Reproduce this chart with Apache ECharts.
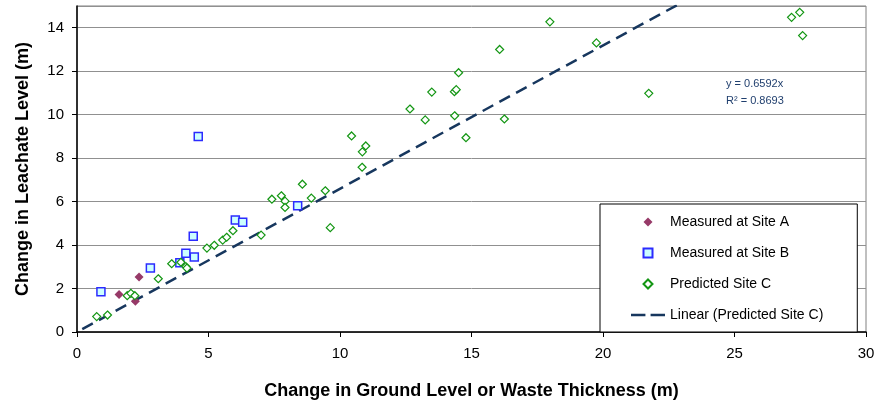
<!DOCTYPE html>
<html><head><meta charset="utf-8">
<script src="https://cdn.jsdelivr.net/npm/echarts@6/dist/echarts.min.js"></script>
<style>html,body{margin:0;padding:0;background:#fff}#c{width:880px;height:405px}</style>
</head><body><div id="c"></div>
<script>
// ---- data ----
const seriesNames = ['Measured at Site A', 'Measured at Site B', 'Predicted Site C', 'Linear (Predicted Site C)'];
const siteA = [[1.60, 1.72], [2.36, 2.53], [2.22, 1.42]];
const siteB = [[0.91, 1.85], [2.79, 2.95], [3.91, 3.19], [4.14, 3.62], [4.46, 3.45],
               [4.42, 4.41], [6.02, 5.15], [6.30, 5.05], [8.39, 5.81], [4.61, 9.00]];
const siteC = [[0.75, 0.71], [1.16, 0.78], [1.91, 1.67], [2.05, 1.78], [2.20, 1.67],
               [3.09, 2.45], [3.60, 3.14], [3.95, 3.21], [4.14, 3.01], [4.18, 2.94],
               [4.94, 3.86], [5.22, 3.99], [5.54, 4.23], [5.69, 4.36], [5.93, 4.66],
               [7.00, 4.46], [7.41, 6.11], [7.77, 6.27], [7.91, 6.02], [7.91, 5.73],
               [8.57, 6.80], [8.91, 6.16], [9.44, 6.50], [9.63, 4.80], [10.44, 9.02],
               [10.85, 8.29], [10.98, 8.56], [10.84, 7.58], [12.66, 10.26], [13.24, 9.76],
               [13.49, 11.04], [14.36, 9.95], [14.35, 11.06], [14.42, 11.15], [14.51, 11.93],
               [14.79, 8.94], [16.07, 13.00], [16.25, 9.80], [17.98, 14.27], [19.75, 13.30],
               [21.74, 10.98], [27.17, 14.48], [27.48, 14.71], [27.59, 13.64]];
const trendSlope = 0.6592;     // y = 0.6592x (from chart label)
const trendR2 = 0.8693;
const trendXRange = [0.2, 27.6];
const xAxisRange = [0, 30, 5];   // min, max, interval
const yAxisRange = [0, 15, 2];
const xTitle = 'Change in Ground Level or Waste Thickness (m)';
const yTitle = 'Change in Leachate Level (m)';

const trendData = trendXRange.map(x => [x, trendSlope * x]);
const FONT = '"Liberation Sans", Arial, sans-serif';
const TREND_COLOR = '#17375e';
const ICON_DIAMOND = 'path://M5,0L10,5L5,10L0,5Z';
const ICON_SQUARE = 'path://M0,0H10V10H0Z';
const ICON_DASH = 'path://M0,0H14V2.4H0Z M19,0H33V2.4H19Z';

const chart = echarts.init(document.getElementById('c'), null, {renderer: 'canvas'});
chart.setOption({
  animation: false,
  backgroundColor: '#fff',
  grid: {left: 77, right: 14, top: 6, bottom: 72, show: true, borderColor: '#808080', borderWidth: 1, backgroundColor: 'transparent'},
  xAxis: {
    type: 'value', min: xAxisRange[0], max: xAxisRange[1], interval: xAxisRange[2],
    name: xTitle, nameLocation: 'middle', nameGap: 50,
    nameTextStyle: {fontFamily: FONT, fontSize: 18, fontWeight: 'bold', color: '#000'},
    axisLine: {show: true, onZero: false, lineStyle: {color: '#000', width: 1.5}},
    axisTick: {show: true, inside: false, length: 5, lineStyle: {color: '#000'}},
    axisLabel: {fontFamily: FONT, fontSize: 15, color: '#000', margin: 14},
    splitLine: {show: false}
  },
  yAxis: {
    type: 'value', min: yAxisRange[0], max: yAxisRange[1], interval: yAxisRange[2],
    name: yTitle, nameLocation: 'middle', nameGap: 45, nameRotate: 90,
    nameTextStyle: {fontFamily: FONT, fontSize: 18, fontWeight: 'bold', color: '#000'},
    axisLine: {show: true, onZero: false, lineStyle: {color: '#000', width: 1.5}},
    axisTick: {show: true, inside: false, length: 5, lineStyle: {color: '#000'}},
    axisLabel: {fontFamily: FONT, fontSize: 15, color: '#000', margin: 13, showMaxLabel: false},
    splitLine: {show: true, lineStyle: {color: '#909090', width: 1}}
  },
  legend: {
    orient: 'vertical', left: 600, top: 204,
    padding: [11, 34, 10, 31],
    itemWidth: 34, itemHeight: 9, itemGap: 17,
    symbolKeepAspect: true,
    backgroundColor: '#fff', borderColor: '#000', borderWidth: 1,
    textStyle: {fontFamily: FONT, fontSize: 14, color: '#000'},
    data: [
      {name: seriesNames[0], icon: ICON_DIAMOND},
      {name: seriesNames[1], icon: ICON_SQUARE},
      {name: seriesNames[2], icon: ICON_DIAMOND},
      {name: seriesNames[3], icon: ICON_DASH, itemStyle: {color: TREND_COLOR, borderWidth: 0}}
    ]
  },
  graphic: [{
    type: 'text', left: 726, top: 75,
    style: {text: 'y = ' + trendSlope + 'x\nR² = ' + trendR2, fontFamily: FONT, fontSize: 11, lineHeight: 17, fill: '#203f6e'}
  }],
  series: [
    {name: seriesNames[0], type: 'scatter', data: siteA, symbol: 'diamond', symbolSize: 9,
     itemStyle: {color: '#973a68', opacity: 1}, z: 4},
    {name: seriesNames[1], type: 'scatter', data: siteB, symbol: 'rect', symbolSize: 8,
     itemStyle: {color: '#ccffff', borderColor: '#2b2bff', borderWidth: 1.5, opacity: 1}, z: 3},
    {name: seriesNames[2], type: 'scatter', data: siteC, symbol: 'diamond', symbolSize: 8,
     itemStyle: {color: '#ffffff', borderColor: '#139613', borderWidth: 1.2, opacity: 1}, z: 5},
    {name: seriesNames[3], type: 'line', data: trendData, symbol: 'none', showSymbol: false, clip: true,
     lineStyle: {color: TREND_COLOR, width: 2.5, type: [12, 7]}, itemStyle: {color: TREND_COLOR}, z: 2}
  ]
});
</script></body></html>
